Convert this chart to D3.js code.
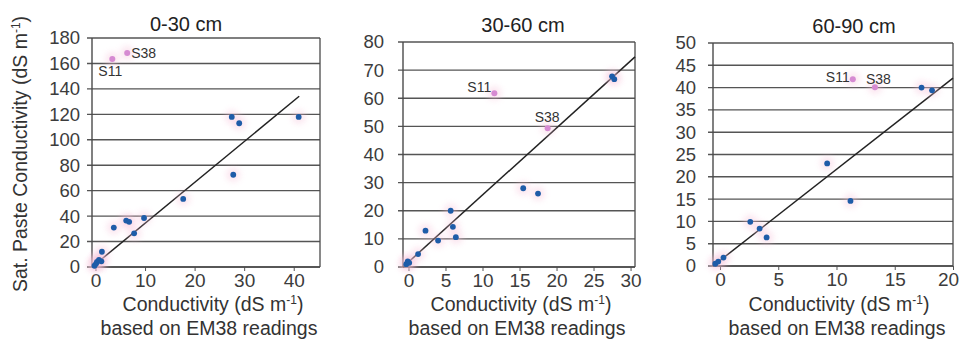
<!DOCTYPE html>
<html>
<head>
<meta charset="utf-8">
<script src="https://cdn.jsdelivr.net/npm/d3@7"></script>
<style>
  body { margin: 0; background: #fff; }
  svg { display: block; }
  text { font-family: "Liberation Sans", Arial, Helvetica, sans-serif; }
</style>
</head>
<body>
<svg id="chart" width="962" height="342"></svg>
<script>
// Soil depth layers, one panel each
const depths = ["0-30 cm", "30-60 cm", "60-90 cm"];

// EM38-based conductivity (x) and saturated paste conductivity (y), dS m-1
const em38_0_30  = [-0.2, 0.1, 0.3, 0.7, 1.2, 1.3, 3.7, 6.2, 6.8, 7.8, 9.8, 17.7, 27.8, 27.5, 29.0, 41.0];
const paste_0_30 = [1.0, 2.5, 4.0, 5.5, 4.5, 12.0, 31.0, 36.5, 35.5, 26.5, 38.5, 53.5, 72.5, 118.0, 113.0, 118.0];

const em38_30_60  = [-0.3, -0.1, 0.1, 1.3, 2.3, 4.0, 5.7, 6.0, 6.4, 15.5, 17.5, 27.5, 27.8];
const paste_30_60 = [1.0, 2.0, 1.5, 4.6, 12.9, 9.4, 20.0, 14.3, 10.6, 28.0, 26.1, 67.8, 66.8];

const em38_60_90  = [-0.4, -0.15, 0.3, 2.6, 3.4, 4.0, 9.2, 11.2, 17.3, 18.2];
const paste_60_90 = [0.5, 1.0, 1.9, 9.9, 8.4, 6.4, 23.0, 14.6, 40.0, 39.4];

// Outlying sites, shown in pink and labelled
const outlierNames = ["S11", "S38"];
const outlierEm38  = [[3.4, 6.4], [11.6, 18.8], [11.4, 13.3]];
const outlierPaste = [[163.4, 168.2], [61.8, 49.3], [41.9, 40.1]];

// Fitted lines: y = slope * x + intercept, drawn over [from, to]
const fitSlope     = [3.21, 2.384, 2.044];
const fitIntercept = [2.25, 1.76, 1.23];
const fitFrom      = [-0.7, -0.74, -0.6];
const fitTo        = [41.1, 30.6, 20.0];

// Axis ranges and ticks
const xMin = [-0.7, -0.74, -0.6];
const xMax = [45.3, 30.6, 20.0];
const yMax = [180, 80, 50];
const xTicks = [[0, 10, 20, 30, 40], [0, 5, 10, 15, 20, 25, 30], [0, 5, 10, 15, 20]];
const yTicks = [
  [0, 20, 40, 60, 80, 100, 120, 140, 160, 180],
  [0, 10, 20, 30, 40, 50, 60, 70, 80],
  [0, 5, 10, 15, 20, 25, 30, 35, 40, 45, 50]
];

const seriesX = [em38_0_30, em38_30_60, em38_60_90];
const seriesY = [paste_0_30, paste_30_60, paste_60_90];

// Panel geometry
const frames = [
  { left: 92,  right: 320, top: 38, bottom: 267, titleX: 186, titleY: 31, yPad: 7,  xTitleX: 213, subTitleX: 209 },
  { left: 403, right: 635, top: 42, bottom: 267, titleX: 523, titleY: 32, yPad: 14, xTitleX: 521, subTitleX: 517 },
  { left: 713, right: 953, top: 43, bottom: 266, titleX: 854, titleY: 33, yPad: 12, xTitleX: 839, subTitleX: 837 }
];
// Label offsets for S11 / S38 relative to their markers
const labelOffsets = [
  [[-14, 17], [4, 5]],
  [[-27, -1], [-13, -6]],
  [[-27, 3], [-9, -3]]
];

const svg = d3.select("#chart");
const defs = svg.append("defs");
defs.append("filter").attr("id", "halo").attr("x", "-100%").attr("y", "-100%")
  .attr("width", "300%").attr("height", "300%")
  .append("feGaussianBlur").attr("stdDeviation", 3);

const gridColor = "#555";
const tickText = "#3c3c3c";

frames.forEach((f, i) => {
  const x = d3.scaleLinear().domain([xMin[i], xMax[i]]).range([f.left, f.right]);
  const y = d3.scaleLinear().domain([0, yMax[i]]).range([f.bottom, f.top]);
  const g = svg.append("g");

  // Horizontal gridlines (extend left as tick marks)
  g.selectAll("line.grid").data(yTicks[i]).join("line")
    .attr("x1", f.left - 5).attr("x2", f.right)
    .attr("y1", d => y(d)).attr("y2", d => y(d))
    .attr("stroke", gridColor).attr("stroke-width", 1.4);

  // Y tick labels
  const yAxis = d3.axisLeft(y).tickValues(yTicks[i]).tickSize(0).tickPadding(f.yPad + 5);
  const ya = g.append("g").attr("transform", `translate(${f.left},0)`).call(yAxis);
  ya.select(".domain").remove();
  ya.selectAll("text").attr("font-size", 18.5).attr("fill", tickText)
    .attr("font-family", "Liberation Sans, Arial, sans-serif");

  // X axis with small ticks
  const xAxis = d3.axisBottom(x).tickValues(xTicks[i]).tickSize(4).tickPadding(3).tickSizeOuter(0);
  const xa = g.append("g").attr("transform", `translate(0,${f.bottom})`).call(xAxis);
  xa.select(".domain").remove();
  xa.selectAll("line").attr("stroke", "#555");
  xa.selectAll("text").attr("font-size", 19).attr("fill", tickText)
    .attr("font-family", "Liberation Sans, Arial, sans-serif");
  // keep the last label of the rightmost panel inside the page
  if (i === frames.length - 1) {
    xa.selectAll("text").filter(d => d === xTicks[i][xTicks[i].length - 1]).attr("dx", -5);
  }

  // Frame: left axis, bottom axis, right edge
  g.append("line").attr("x1", f.left).attr("x2", f.left).attr("y1", f.top).attr("y2", f.bottom)
    .attr("stroke", "#4a4a4a").attr("stroke-width", 1.4);
  g.append("line").attr("x1", f.left).attr("x2", f.right).attr("y1", f.bottom).attr("y2", f.bottom)
    .attr("stroke", "#4a4a4a").attr("stroke-width", 1.4);
  g.append("line").attr("x1", f.right).attr("x2", f.right).attr("y1", f.top).attr("y2", f.bottom)
    .attr("stroke", "#4a4a4a").attr("stroke-width", 1.3);

  // Fitted line
  const fx = [fitFrom[i], fitTo[i]];
  g.append("line")
    .attr("x1", x(fx[0])).attr("y1", y(fitSlope[i] * fx[0] + fitIntercept[i]))
    .attr("x2", x(fx[1])).attr("y2", y(fitSlope[i] * fx[1] + fitIntercept[i]))
    .attr("stroke", "#222").attr("stroke-width", 1.5);

  // Points
  const pts = seriesX[i].map((v, k) => [v, seriesY[i][k]]);
  const outs = outlierEm38[i].map((v, k) => [v, outlierPaste[i][k], outlierNames[k]]);

  g.selectAll("circle.halo").data(pts.concat(outs)).join("circle")
    .attr("cx", d => x(d[0])).attr("cy", d => y(d[1])).attr("r", 7)
    .attr("fill", "#f6bfd8").attr("opacity", 0.4).attr("filter", "url(#halo)");

  g.selectAll("circle.pt").data(pts).join("circle")
    .attr("cx", d => x(d[0])).attr("cy", d => y(d[1])).attr("r", 2.9)
    .attr("fill", "#1e5ca8");

  g.selectAll("circle.out").data(outs).join("circle")
    .attr("cx", d => x(d[0])).attr("cy", d => y(d[1])).attr("r", 3)
    .attr("fill", "#d68ad2");

  g.selectAll("text.lbl").data(outs).join("text")
    .attr("x", (d, k) => x(d[0]) + labelOffsets[i][k][0])
    .attr("y", (d, k) => y(d[1]) + labelOffsets[i][k][1])
    .attr("font-family", "Liberation Sans Narrow, Arial Narrow, sans-serif")
    .attr("font-size", 14).attr("fill", "#333")
    .text(d => d[2]);

  // Panel title
  g.append("text").attr("x", f.titleX).attr("y", f.titleY).attr("text-anchor", "middle")
    .attr("font-size", 20).attr("fill", "#222").text(depths[i]);

  // X axis title (two lines)
  const xt = g.append("text").attr("x", f.xTitleX).attr("y", 311).attr("text-anchor", "middle")
    .attr("font-size", 19.5).attr("fill", "#333");
  xt.append("tspan").text("Conductivity (dS m");
  xt.append("tspan").attr("font-size", 12).attr("dy", -7).text("-1");
  xt.append("tspan").attr("dy", 7).text(")");
  g.append("text").attr("x", f.subTitleX).attr("y", 335).attr("text-anchor", "middle")
    .attr("font-size", 19.5).attr("fill", "#333").text("based on EM38 readings");
});

// Shared y axis title
const yt = svg.append("text")
  .attr("transform", "translate(27,154) rotate(-90)")
  .attr("text-anchor", "middle").attr("font-size", 19.5).attr("fill", "#333");
yt.append("tspan").text("Sat. Paste Conductivity (dS m");
yt.append("tspan").attr("font-size", 12).attr("dy", -7).text("-1");
yt.append("tspan").attr("dy", 7).text(")");
</script>
</body>
</html>
